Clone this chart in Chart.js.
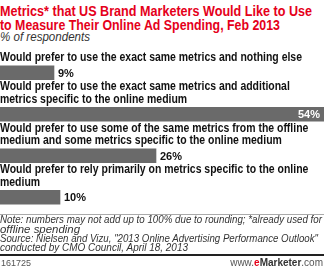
<!DOCTYPE html>
<html>
<head>
<meta charset="utf-8">
<script src="https://cdn.jsdelivr.net/npm/chart.js@4"></script>
<style>
  html, body { margin: 0; padding: 0; background: #fff; }
  body { width: 324px; height: 271px; position: relative; overflow: hidden; font-family: Arial, "Liberation Sans", sans-serif; }
  .fit { position: absolute; left: 0; white-space: nowrap; transform-origin: 0 50%; }
  .title { color: #e5001a; font-weight: bold; font-size: 15px; line-height: 15px; }
  .sub { font-style: italic; font-size: 12.5px; line-height: 12px; color: #333; }
  .note { font-style: italic; font-size: 10px; line-height: 10px; color: #333; }
  #wrap { position: absolute; left: 0; top: 44px; width: 324px; height: 176px; }
  .rule1 { position: absolute; left: 0; top: 214px; width: 324px; height: 1px; background: #aaa; }
  .rule2 { position: absolute; left: 0; top: 254px; width: 324px; height: 2px; background: #222; }
  .id { position: absolute; left: 1px; top: 258px; font-size: 9px; color: #555; }
  .brand { position: absolute; right: 1px; top: 257px; font-size: 10px; color: #555; }
  .brand b { color: #333; }
  .brand .e { color: #e5001a; }
</style>
</head>
<body>
<div class="fit title" style="top:3px" data-w="312">Metrics* that US Brand Marketers Would Like to Use</div>
<div class="fit title" style="top:17px" data-w="280">to Measure Their Online Ad Spending, Feb 2013</div>
<div class="fit sub" style="top:31px" data-w="90">% of respondents</div>
<div id="wrap"><canvas id="chart"></canvas></div>
<div class="rule1"></div>
<div class="fit note" style="top:215px" data-w="322">Note: numbers may not add up to 100% due to rounding; *already used for</div>
<div class="fit note" style="top:225px" data-w="80">offline spending</div>
<div class="fit note" style="top:234px" data-w="318">Source: Nielsen and Vizu, "2013 Online Advertising Performance Outlook"</div>
<div class="fit note" style="top:243px" data-w="188">conducted by CMO Council, April 18, 2013</div>
<div class="rule2"></div>
<div class="id">161725</div>
<div class="brand">www.<b><span class="e">e</span>Marketer</b>.com</div>
<script>
// dados do gráfico
const categories = [
    ['Would prefer to use the exact same metrics and nothing else'],
    ['Would prefer to use the exact same metrics and additional', 'metrics specific to the online medium'],
    ['Would prefer to use some of the same metrics from the offline', 'medium and some metrics specific to the online medium'],
    ['Would prefer to rely primarily on metrics specific to the online', 'medium']
];
const values = [9, 54, 26, 10];

// Ajustar largura dos textos HTML
document.querySelectorAll('.fit').forEach(el => {
    const w = el.getBoundingClientRect().width;
    el.style.transform = `scaleX(${el.dataset.w / w})`;
});

// Rótulos das categorias acima das barras e valores
const labelPlugin = {
    id: 'labelPlugin',
    afterDatasetsDraw(chart) {
        const ctx = chart.ctx;
        const meta = chart.getDatasetMeta(0);
        const xMax = chart.scales.x.max;
        const labelFont = 'bold 12.5px Arial, "Liberation Sans", sans-serif';
        ctx.save();
        ctx.font = labelFont;
        const sx = 302 / ctx.measureText(categories[0][0]).width;
        meta.data.forEach((bar, i) => {
            const top = bar.y - bar.height / 2;
            const lines = categories[i];
            ctx.font = labelFont;
            ctx.fillStyle = '#111';
            ctx.textAlign = 'left';
            ctx.textBaseline = 'middle';
            lines.forEach((line, k) => {
                const y = top - 8 - (lines.length - 1 - k) * 12.5;
                ctx.save();
                ctx.translate(0, y);
                ctx.scale(sx, 1);
                ctx.fillText(line, 0, 0);
                ctx.restore();
            });
            ctx.font = 'bold 11px Arial, "Liberation Sans", sans-serif';
            const txt = values[i] + '%';
            if (values[i] >= xMax) {
                ctx.fillStyle = '#fff';
                ctx.textAlign = 'right';
                ctx.fillText(txt, bar.x - 4, bar.y + 1);
            } else {
                ctx.fillStyle = '#111';
                ctx.textAlign = 'left';
                ctx.fillText(txt, bar.x + 4, bar.y + 1);
            }
        });
        ctx.restore();
    }
};

new Chart(document.getElementById('chart'), {
    type: 'bar',
    data: {
        labels: categories.map(c => c.join(' ')),
        datasets: [{
            data: values,
            backgroundColor: '#6a6a6a',
            barThickness: 14
        }]
    },
    options: {
        indexAxis: 'y',
        responsive: true,
        maintainAspectRatio: false,
        animation: false,
        layout: { padding: { top: 8, bottom: 2, left: 0, right: 0 } },
        scales: {
            x: { display: false, min: 0, max: 54 },
            y: { display: false }
        },
        plugins: {
            legend: { display: false },
            tooltip: { enabled: false }
        }
    },
    plugins: [labelPlugin]
});
</script>
</body>
</html>
